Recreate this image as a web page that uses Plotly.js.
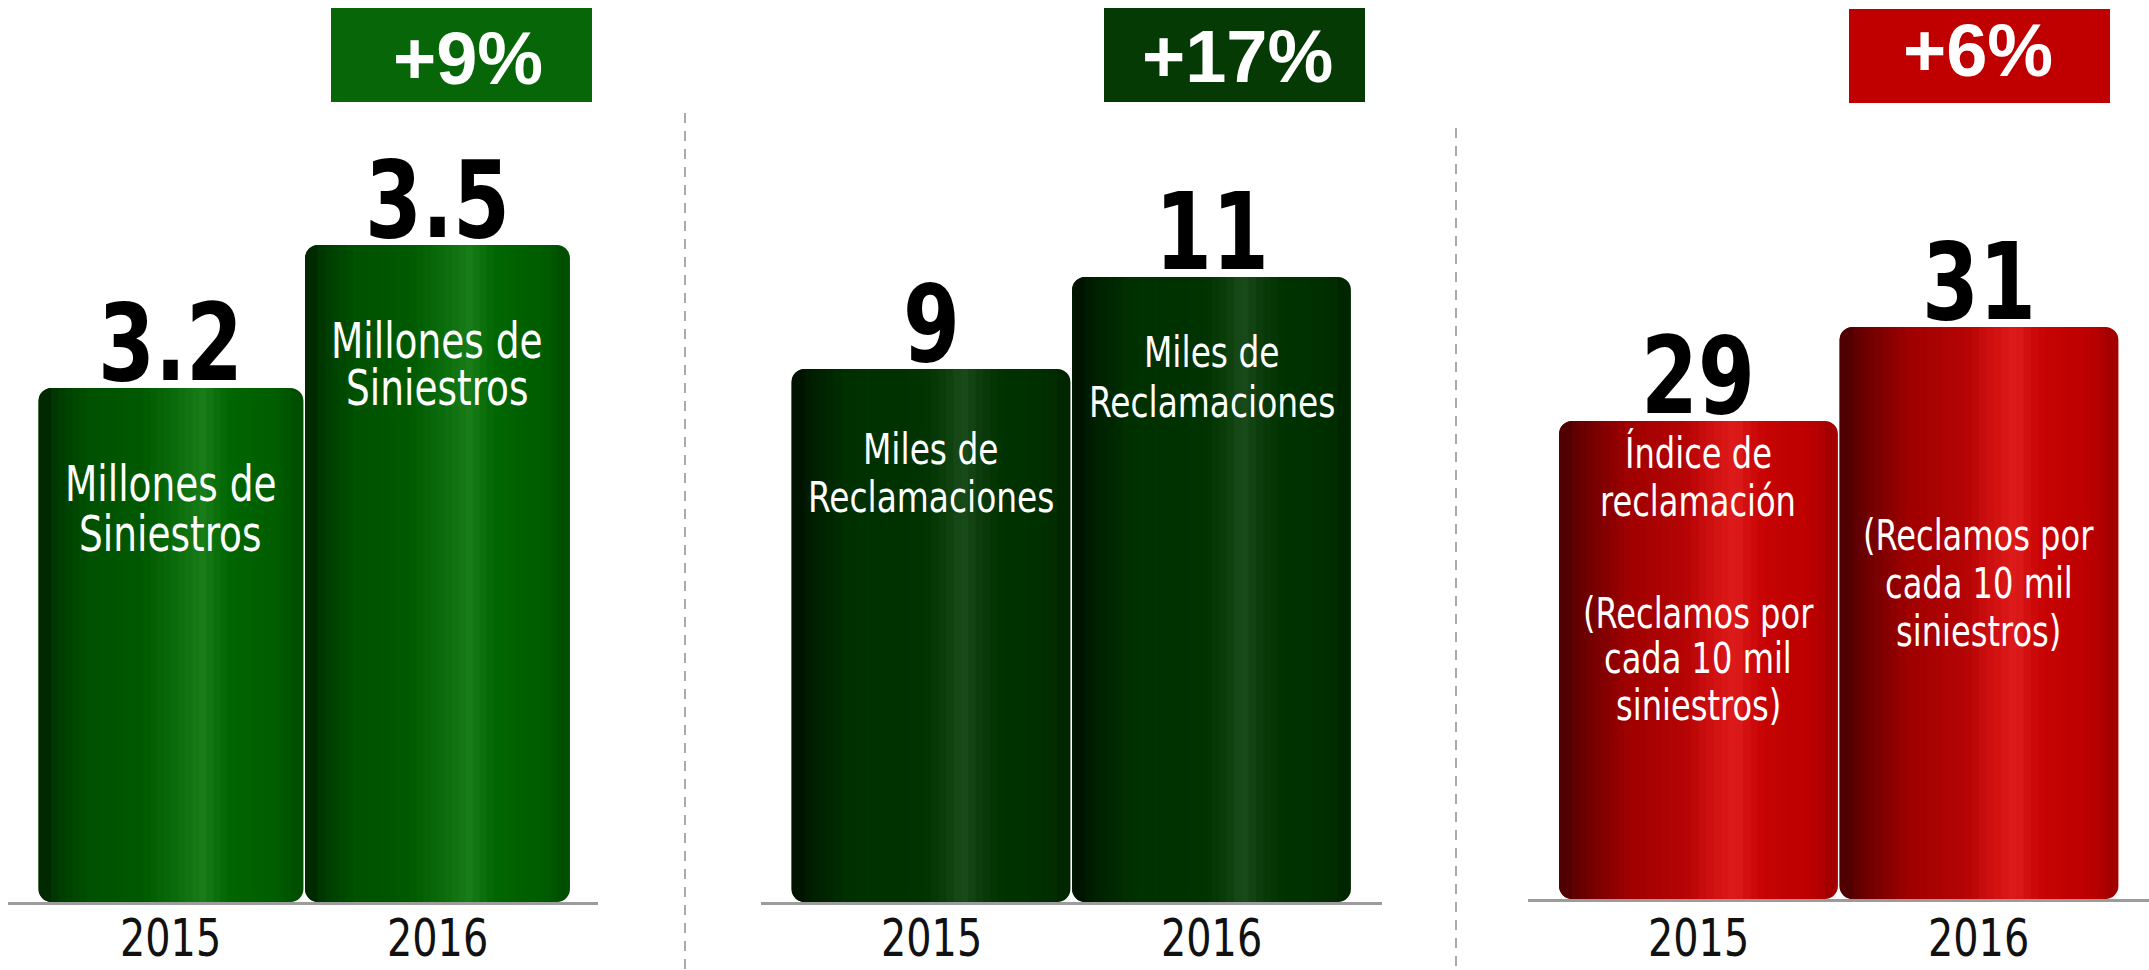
<!DOCTYPE html>
<html>
<head>
<meta charset="utf-8">
<script src="https://cdn.plot.ly/plotly-3.0.1.min.js"></script>
<style>
html,body{margin:0;padding:0;background:#fff;overflow:hidden}
#chart{width:2149px;height:970px}
/* condensed look for the narrow-font labels */
text.annotation-text[style*="Liberation Sans Narrow"]{transform-box:fill-box;transform-origin:center;transform:scaleX(0.85)}
</style>
</head>
<body>
<div id="chart"></div>
<script>
// ---------------- DATA ----------------
const years = ['2015', '2016'];
const siniestros = [3.2, 3.5];      // millones de siniestros
const reclamaciones = [9, 11];      // miles de reclamaciones
const indice = [29, 31];            // reclamos por cada 10 mil siniestros
const valueLabels1 = ['3.2', '3.5'];
const valueLabels2 = ['9', '11'];
const valueLabels3 = ['29', '31'];
const growthLabels = ['+9%', '+17%', '+6%'];
const innerText1 = [['Millones de', 'Siniestros'], ['Millones de', 'Siniestros']];
const innerText2 = [['Miles de', 'Reclamaciones'], ['Miles de', 'Reclamaciones']];
const innerText3 = [['Índice de', 'reclamación', '(Reclamos por', 'cada 10 mil', 'siniestros)'],
                    ['(Reclamos por', 'cada 10 mil', 'siniestros)']];

// ---------------- STYLE / LAYOUT ----------------
const W = 2149, H = 970;
const NARROW = "'Liberation Sans Narrow', 'DejaVu Sans Condensed', 'Arial Narrow', sans-serif";
const BOLD = "'Liberation Sans', Arial, sans-serif";

const g1 = [[0,'#002400'],[0.08,'#003c00'],[0.18,'#005000'],[0.4,'#005a00'],[0.52,'#0b6c0b'],[0.62,'#187c18'],[0.72,'#006600'],[0.9,'#005c00'],[1,'#004c00']];
const g2 = [[0,'#001200'],[0.1,'#002200'],[0.2,'#003000'],[0.48,'#003300'],[0.55,'#0a3d0a'],[0.61,'#1a4b1a'],[0.68,'#0c3c0c'],[0.75,'#003300'],[0.92,'#002e00'],[1,'#002400']];
const g3 = [[0,'#4a0000'],[0.1,'#700000'],[0.25,'#a00000'],[0.45,'#b40404'],[0.55,'#d01010'],[0.63,'#de1c1c'],[0.72,'#c80404'],[0.9,'#bc0000'],[1,'#a00000']];

const panels = [
  {vals: siniestros, labels: valueLabels1, inner: innerText1, grad: g1,
   xDom: [8, 598], xRange: [-0.6116, 1.6023], yDom: [110, 902], yRange: [2.1217, 3.7831],
   innerTops: [[463, 513], [320, 367]], innerSize: 49,
   badge: {x0: 331, x1: 592, y0: 8, y1: 102, color: '#076607', tx: 468, ty: 58}},
  {vals: reclamaciones, labels: valueLabels2, inner: innerText2, grad: g2,
   xDom: [761, 1382], xRange: [-0.6061, 1.6078], yDom: [110, 902], yRange: [-2.587, 14.63],
   innerTops: [[430, 478], [333, 383]], innerSize: 43,
   badge: {x0: 1104, x1: 1365, y0: 8, y1: 102, color: '#053a05', tx: 1237, ty: 56}},
  {vals: indice, labels: valueLabels3, inner: innerText3, grad: g3,
   xDom: [1528, 2149], xRange: [-0.6078, 1.6061], yDom: [110, 899], yRange: [18.830, 35.617],
   innerTops: [[434, 483, 595, 640, 687], [517, 565, 613]], innerSize: 42,
   badge: {x0: 1849, x1: 2110, y0: 9, y1: 103, color: '#c00000', tx: 1978, ty: 50}}
];

function hex2rgb(h){return [parseInt(h.slice(1,3),16),parseInt(h.slice(3,5),16),parseInt(h.slice(5,7),16)];}
function gradAt(stops, t){
  for (let i = 0; i < stops.length - 1; i++) {
    const [t0, c0] = stops[i], [t1, c1] = stops[i+1];
    if (t >= t0 && t <= t1) {
      const f = (t - t0) / (t1 - t0), a = hex2rgb(c0), b = hex2rgb(c1);
      return 'rgb(' + a.map((v, k) => Math.round(v + (b[k] - v) * f)).join(',') + ')';
    }
  }
  return stops[stops.length-1][1];
}

const BARW = 0.994, EDGE = 0.047, NSTRIPE = 34, RADIUS = 13;
const traces = [], annotations = [], shapes = [];
const layout = {
  width: W, height: H, margin: {l: 0, r: 0, t: 0, b: 0},
  paper_bgcolor: '#ffffff', plot_bgcolor: 'rgba(0,0,0,0)',
  showlegend: false, barmode: 'overlay', hovermode: false
};

panels.forEach((p, k) => {
  const n = k === 0 ? '' : String(k + 1);
  const xa = 'x' + n, ya = 'y' + n;
  const floor = p.yRange[0];
  const ydraw = p.vals.map(v => v - floor);
  // base bar (rounded top), right-edge colour
  traces.push({type: 'bar', x: years, y: ydraw, base: floor, xaxis: xa, yaxis: ya,
    width: BARW, offset: -BARW / 2, hoverinfo: 'skip',
    marker: {color: gradAt(p.grad, 0.985), cornerradius: RADIUS, line: {width: 0}}});
  // left edge piece (rounded top-left)
  traces.push({type: 'bar', x: years, y: ydraw, base: floor, xaxis: xa, yaxis: ya,
    width: BARW * EDGE * 2.2, offset: -BARW / 2, hoverinfo: 'skip',
    marker: {color: gradAt(p.grad, 0.015), cornerradius: RADIUS, line: {width: 0}}});
  // gradient stripes
  const span = (1 - 2 * EDGE) / NSTRIPE;
  for (let s = 0; s < NSTRIPE; s++) {
    const f0 = EDGE + s * span;
    traces.push({type: 'bar', x: years, y: ydraw, base: floor, xaxis: xa, yaxis: ya,
      width: BARW * span + (s < NSTRIPE - 1 ? 0.004 : 0), offset: -BARW / 2 + BARW * f0,
      hoverinfo: 'skip', marker: {color: gradAt(p.grad, f0 + span / 2), line: {width: 0}}});
  }
  layout['xaxis' + n] = {domain: [p.xDom[0] / W, p.xDom[1] / W], range: p.xRange, type: 'category',
    anchor: ya, showline: true, linecolor: '#9c9c9c', linewidth: 3, showgrid: false, zeroline: false,
    ticks: '', showticklabels: false, fixedrange: true};
  layout['yaxis' + n] = {domain: [1 - p.yDom[1] / H, 1 - p.yDom[0] / H], range: p.yRange,
    anchor: xa, visible: false, showgrid: false, zeroline: false, fixedrange: true};
  // year labels (category labels under each bar)
  years.forEach((yr, i) => {
    annotations.push({xref: xa, yref: 'paper', x: i, y: 1 - 906 / H, yanchor: 'top', text: yr,
      showarrow: false, font: {family: NARROW, size: 52, color: '#111111'}});
  });
  // value labels
  p.vals.forEach((v, i) => {
    annotations.push({xref: xa, yref: ya, x: i, y: v, text: p.labels[i], showarrow: false,
      yanchor: 'bottom', yshift: -19, font: {family: NARROW, size: 107, color: '#000000', weight: 'bold'}});
  });
  // inner white labels
  p.inner.forEach((lines, i) => {
    lines.forEach((line, j) => {
      const top = p.innerTops[i][j] - Math.round(1 + 0.168 * p.innerSize);
      annotations.push({xref: xa, yref: 'paper', x: i, y: 1 - top / H, yanchor: 'top',
        text: line, showarrow: false, font: {family: NARROW, size: p.innerSize, color: '#ffffff'}});
    });
  });
  // growth badge
  const b = p.badge;
  shapes.push({type: 'rect', xref: 'paper', yref: 'paper', x0: b.x0 / W, x1: b.x1 / W,
    y0: 1 - b.y1 / H, y1: 1 - b.y0 / H, fillcolor: b.color, line: {width: 0}, layer: 'above'});
  annotations.push({xref: 'paper', yref: 'paper', x: b.tx / W, y: 1 - b.ty / H, xanchor: 'center',
    yanchor: 'middle', text: growthLabels[k], showarrow: false,
    font: {family: BOLD, size: 74, color: '#ffffff', weight: 'bold'}});
});

// dashed separators
[[685, 113], [1456, 128]].forEach(([x, y0]) => {
  shapes.push({type: 'line', xref: 'paper', yref: 'paper', x0: x / W, x1: x / W, y0: 1 - y0 / H, y1: 0,
    line: {color: '#ababab', width: 2, dash: '10px,8px'}});
});

layout.annotations = annotations;
layout.shapes = shapes;

Plotly.newPlot('chart', traces, layout, {displayModeBar: false, staticPlot: true});
</script>
</body>
</html>
